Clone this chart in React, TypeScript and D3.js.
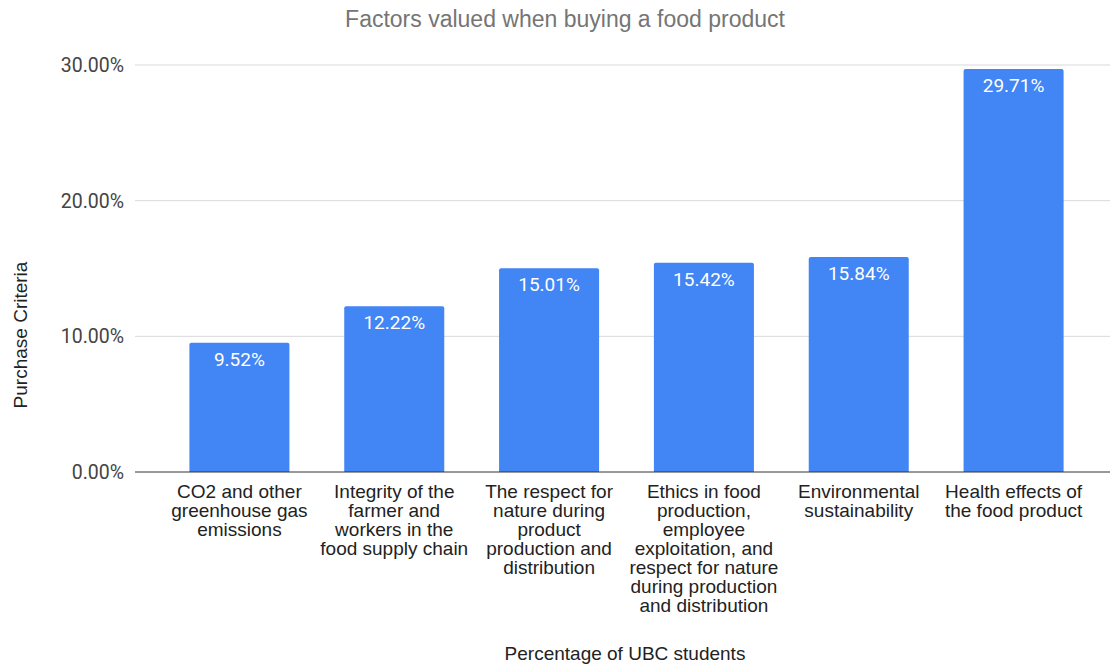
import React from "react";
import * as d3 from "d3";

const categories = [
  "CO2 and other greenhouse gas emissions",
  "Integrity of the farmer and workers in the food supply chain",
  "The respect for nature during product production and distribution",
  "Ethics in food production, employee exploitation, and respect for nature during production and distribution",
  "Environmental sustainability",
  "Health effects of the food product",
];
const categoryLines = [
  ["CO2 and other", "greenhouse gas", "emissions"],
  ["Integrity of the", "farmer and", "workers in the", "food supply chain"],
  ["The respect for", "nature during", "product", "production and", "distribution"],
  ["Ethics in food", "production,", "employee", "exploitation, and", "respect for nature", "during production", "and distribution"],
  ["Environmental", "sustainability"],
  ["Health effects of", "the food product"],
];
const values = [9.52, 12.22, 15.01, 15.42, 15.84, 29.71];
const yTicks = [0, 10, 20, 30];

const W = 1110;
const H = 665;
const left = 135;
const right = 1110;
const top = 65;
const bottom = 472;
const SANS = "'Liberation Sans', Arial, sans-serif";

export default function App() {
  React.useEffect(() => {
    document.body.style.margin = "0";
  }, []);
  const x = d3.scaleBand<string>().domain(categories).range([162, 1091]).paddingInner(0.354).paddingOuter(0.177);
  const y = d3.scaleLinear().domain([0, 30]).range([bottom, top]);
  const bw = x.bandwidth();
  const r = 2;
  const barPath = (x0: number, y0: number, w: number, h: number) => {
    const p = d3.path();
    p.moveTo(x0, y0 + h);
    p.lineTo(x0, y0 + r);
    p.quadraticCurveTo(x0, y0, x0 + r, y0);
    p.lineTo(x0 + w - r, y0);
    p.quadraticCurveTo(x0 + w, y0, x0 + w, y0 + r);
    p.lineTo(x0 + w, y0 + h);
    p.closePath();
    return p.toString();
  };
  return (
    <svg width={W} height={H} style={{ display: "block" }}>
      <rect width={W} height={H} fill="#fff" />
      <text x={565} y={27} textAnchor="middle" fontFamily={SANS} fontSize={23} fill="#757575">
        Factors valued when buying a food product
      </text>
      {yTicks.map((t) => (
        <g key={t}>
          {t !== 0 && <line x1={left} x2={right} y1={y(t)} y2={y(t)} stroke="#d9d9d9" strokeWidth={1} />}
          <text x={124} y={y(t) + 7} textAnchor="end" fontFamily="Roboto" fontSize={19.5} fill="#444">
            {d3.format(".2f")(t) + "%"}
          </text>
        </g>
      ))}
      {categories.map((c, i) => {
        const x0 = x(c)!;
        const y0 = y(values[i]);
        return (
          <g key={c}>
            <path d={barPath(x0, y0, bw, bottom - y0)} fill="#4285F4" />
            <text x={x0 + bw / 2} y={y0 + 23} textAnchor="middle" fontFamily="Roboto" fontSize={19} fill="#fff">
              {d3.format(".2f")(values[i]) + "%"}
            </text>
            {categoryLines[i].map((ln, j) => (
              <text key={j} x={x0 + bw / 2} y={498 + j * 19} textAnchor="middle" fontFamily={SANS} fontSize={19} fill="#222">
                {ln}
              </text>
            ))}
          </g>
        );
      })}
      <line x1={left} x2={right} y1={bottom} y2={bottom} stroke="#333" strokeWidth={1} />
      <text transform={`translate(27,335) rotate(-90)`} textAnchor="middle" fontFamily={SANS} fontSize={19} fill="#222">
        Purchase Criteria
      </text>
      <text x={625} y={660} textAnchor="middle" fontFamily={SANS} fontSize={19} fill="#222">
        Percentage of UBC students
      </text>
    </svg>
  );
}
